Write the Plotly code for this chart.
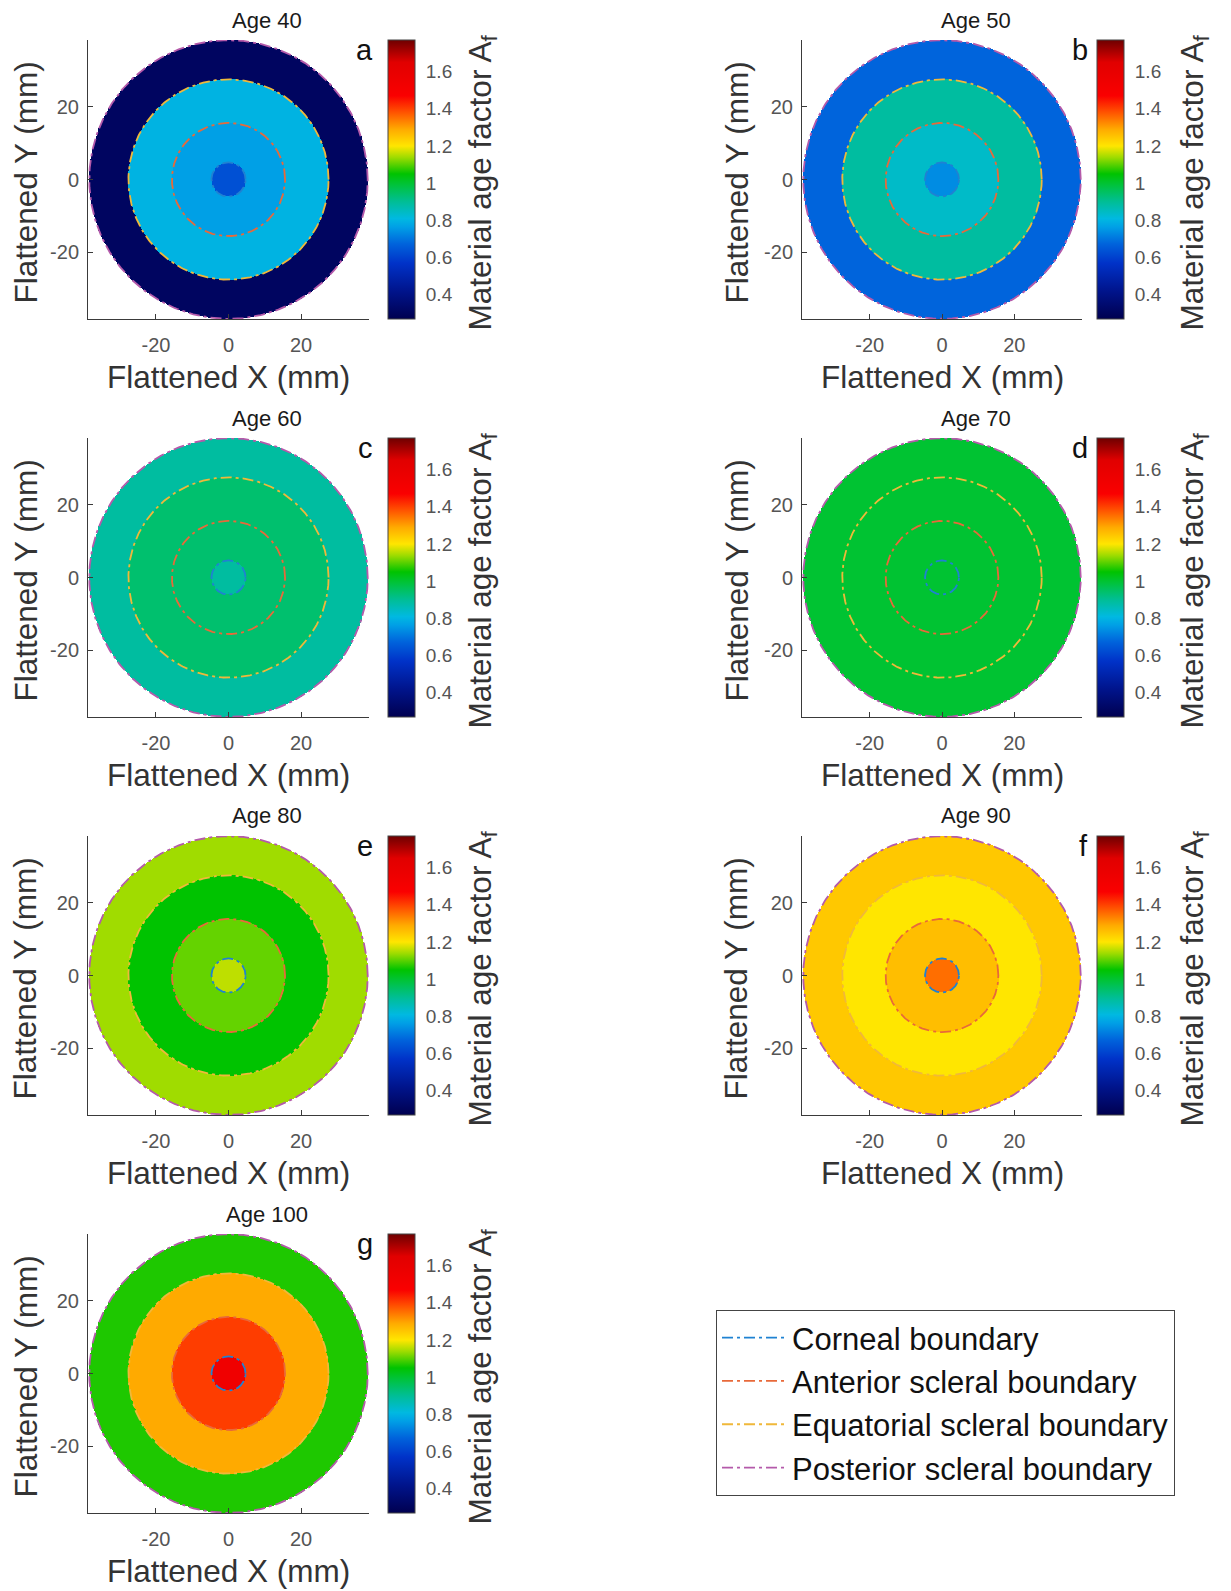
import numpy as np
import plotly.graph_objects as go

# ---------------- data ----------------
ages = [40, 50, 60, 70, 80, 90, 100]
panel_letters = ["a", "b", "c", "d", "e", "f", "g"]
# boundary radii (mm) in flattened coordinates
boundary_names = ["Corneal boundary", "Anterior scleral boundary",
                  "Equatorial scleral boundary", "Posterior scleral boundary"]
boundary_radii = [4.7, 15.6, 27.6, 38.4]
# material age factor per region (cornea, anterior, equatorial, posterior sclera)
cornea_af = [0.633, 0.735, 0.888, 1.00, 1.159, 1.353, 1.545]
anterior_af = [0.765, 0.840, 0.940, 1.00, 1.106, 1.260, 1.405]
equatorial_af = [0.800, 0.888, 0.940, 1.00, 1.050, 1.200, 1.290]
posterior_af = [0.310, 0.675, 0.888, 1.00, 1.140, 1.245, 1.067]
x_ticks = [-20, 0, 20]
x_tick_text = ["-20", "0", "20"]
cb_ticks = [0.4, 0.6, 0.8, 1.0, 1.2, 1.4, 1.6]
cb_tick_text = ["0.4", "0.6", "0.8", "1", "1.2", "1.4", "1.6"]
zmin, zmax = 0.27, 1.77

# ---------------- styles ----------------
PAGE_W, PAGE_H = 1231, 1591
OFF = 8  # default body margin of the html page
W, H = PAGE_W - OFF, PAGE_H - OFF
FONT = "Liberation Sans, Arial, sans-serif"
boundary_colors = ["#1f82d2", "#e8693a", "#f0b83a", "#b45aaa"]
colorscale = [
    [0.00, "rgb(0,0,80)"],
    [0.10, "rgb(0,20,140)"],
    [0.20, "rgb(0,50,200)"],
    [0.27, "rgb(0,100,220)"],
    [0.33, "rgb(0,160,230)"],
    [0.36, "rgb(0,185,225)"],
    [0.42, "rgb(0,190,150)"],
    [0.48, "rgb(0,195,60)"],
    [0.52, "rgb(0,195,0)"],
    [0.58, "rgb(160,220,0)"],
    [0.62, "rgb(255,230,0)"],
    [0.68, "rgb(255,170,0)"],
    [0.75, "rgb(255,70,0)"],
    [0.80, "rgb(250,0,0)"],
    [0.92, "rgb(225,0,0)"],
    [1.00, "rgb(110,0,0)"],
]


def px(x):
    return (x - OFF) / W


def py(y):
    return 1 - (y - OFF) / H


grid = np.arange(-39.0, 39.0001, 0.25)
GX, GY = np.meshgrid(grid, grid)
R = np.sqrt(GX ** 2 + GY ** 2)
theta = np.linspace(0, 2 * np.pi, 400)

fig = go.Figure()
annotations = []
layout = {}

col_geo = [
    dict(ax0=88, ax1=369, cb0=388, cbt=482, ylab=25, title=267, letter=375),
    dict(ax0=802, ax1=1082, cb0=1097, cbt=1194, ylab=736, title=976, letter=1090),
]
AX_H = 279

for i in range(len(ages)):
    row, col = divmod(i, 2)
    g = col_geo[col]
    top = 40 + 398 * row
    bot = top + AX_H
    sfx = "" if i == 0 else str(i + 1)
    xa, ya = "x" + sfx, "y" + sfx

    vals = [cornea_af[i], anterior_af[i], equatorial_af[i], posterior_af[i]]
    Z = np.full(R.shape, np.nan, dtype=np.float32)
    inner = 0.0
    for rb, v in zip(boundary_radii, vals):
        Z[(R >= inner) & (R < rb)] = v
        inner = rb

    fig.add_trace(go.Heatmap(
        x=grid, y=grid, z=Z, xaxis=xa, yaxis=ya,
        colorscale=colorscale, zmin=zmin, zmax=zmax, zsmooth=False,
        hoverinfo="skip", showscale=True,
        colorbar=dict(
            x=px(g["cb0"]), xanchor="left", xref="paper",
            y=py(top), yanchor="top", yref="paper",
            len=AX_H, lenmode="pixels", thickness=27, thicknessmode="pixels",
            xpad=0, ypad=0, outlinewidth=1, outlinecolor="#444",
            ticks="outside", ticklen=7, tickcolor="rgba(0,0,0,0)",
            tickvals=cb_ticks, ticktext=cb_tick_text,
            tickfont=dict(size=19, color="#555", family=FONT),
        ),
    ))

    for name, rb, c in zip(boundary_names, boundary_radii, boundary_colors):
        fig.add_trace(go.Scatter(
            x=rb * np.cos(theta), y=rb * np.sin(theta), mode="lines",
            xaxis=xa, yaxis=ya, name=name,
            line=dict(color=c, width=1.8, dash="11px,4px,3px,4px"),
            showlegend=(i == 0), hoverinfo="skip",
        ))

    axis_common = dict(
        showgrid=False, zeroline=False, showline=True, linecolor="#3a3a3a",
        linewidth=1, ticks="inside", ticklen=5, tickcolor="#3a3a3a",
        tickvals=x_ticks, ticktext=x_tick_text,
        tickfont=dict(size=20, color="#555", family=FONT), fixedrange=True,
    )
    layout["xaxis" + sfx] = dict(
        axis_common, domain=[px(g["ax0"]), px(g["ax1"])], range=[-38.75, 38.75],
        anchor=ya, ticklabelstandoff=8,
    )
    layout["yaxis" + sfx] = dict(
        axis_common, domain=[py(bot), py(top)], range=[-38.45, 38.45],
        anchor=xa, ticklabelstandoff=4,
    )

    xc = (g["ax0"] + g["ax1"]) / 2
    yc = (top + bot) / 2
    annotations += [
        dict(text=f"Age {ages[i]}", x=px(g["title"]), y=py(top - 20),
             xref="paper", yref="paper", showarrow=False, xanchor="center",
             yanchor="middle", font=dict(size=22, color="#1a1a1a", family=FONT)),
        dict(text=panel_letters[i], x=px(g["letter"]), y=py(top + 10),
             xref="paper", yref="paper", showarrow=False, xanchor="right",
             yanchor="middle", font=dict(size=29, color="#111", family=FONT)),
        dict(text="Flattened X (mm)", x=px(xc), y=py(bot + 58),
             xref="paper", yref="paper", showarrow=False, xanchor="center",
             yanchor="middle", font=dict(size=31.5, color="#333", family=FONT)),
        dict(text="Flattened Y (mm)", x=px(g["ylab"]), y=py(yc + 3),
             xref="paper", yref="paper", showarrow=False, xanchor="center",
             yanchor="middle", textangle=-90,
             font=dict(size=31.5, color="#333", family=FONT)),
        dict(text="Material age factor A<sub>f</sub>", x=px(g["cbt"]), y=py(yc + 3),
             xref="paper", yref="paper", showarrow=False, xanchor="center",
             yanchor="middle", textangle=-90,
             font=dict(size=31.5, color="#333", family=FONT)),
    ]

fig.update_layout(
    width=W, height=H, margin=dict(l=0, r=0, t=0, b=0),
    paper_bgcolor="white", plot_bgcolor="white",
    annotations=annotations,
    legend=dict(
        x=px(716), y=py(1310), xanchor="left", yanchor="top",
        bordercolor="#444", borderwidth=1, bgcolor="white",
        font=dict(size=31, color="#111", family=FONT),
        itemwidth=65, tracegroupgap=0,
    ),
    showlegend=True,
    **layout,
)

fig.write_html("out.html")
